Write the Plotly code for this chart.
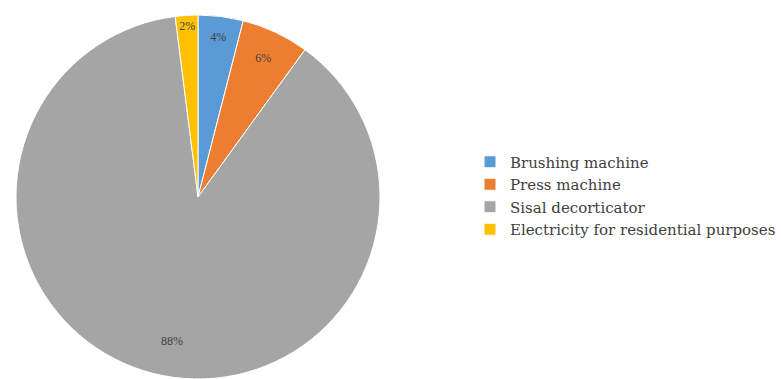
import math
import plotly.graph_objects as go

# Share of electricity use by end use (%)
categories = ["Brushing machine", "Press machine", "Sisal decorticator",
              "Electricity for residential purposes"]
shares = [4, 6, 88, 2]
colors = ["#5B9BD5", "#ED7D31", "#A5A5A5", "#FFC000"]

W, H = 781, 379
# pie placement in pixels (left, right, top, bottom)
PX0, PX1, PY0, PY1 = 15, 381, 15, 379
LABEL_FONT = dict(family="Liberation Serif", size=12, color="#404040")

# the big slice gets its label placed near the rim, the others inside
big = shares.index(max(shares))
templates = ["" if i == big else "%{value}%" for i in range(len(shares))]

fig = go.Figure(
    go.Pie(
        labels=categories,
        values=shares,
        sort=False,
        direction="clockwise",
        rotation=0,
        marker=dict(colors=colors, line=dict(color="white", width=1)),
        texttemplate=templates,
        textposition="inside",
        insidetextorientation="horizontal",
        textfont=LABEL_FONT,
        domain=dict(x=[PX0 / W, PX1 / W], y=[1 - PY1 / H, 1 - PY0 / H]),
        hoverinfo="label+percent",
    )
)

# label for the big slice, at its mid angle (clockwise from 12 o'clock)
total = sum(shares)
start = sum(shares[:big]) / total * 360
mid = math.radians(start + shares[big] / total * 360 / 2)
cx, cy = (PX0 + PX1) / 2, (PY0 + PY1) / 2
r = min(PX1 - PX0, PY1 - PY0) / 2 * 0.87
lx, ly = cx + r * math.sin(mid), cy - r * math.cos(mid)
fig.add_annotation(
    x=lx / W, y=1 - ly / H, xref="paper", yref="paper",
    text=f"{shares[big]}%", showarrow=False, font=LABEL_FONT,
)

fig.update_layout(
    width=W,
    height=H,
    margin=dict(l=0, r=0, t=0, b=0),
    paper_bgcolor="white",
    plot_bgcolor="white",
    font=dict(family="Liberation Serif", color="#404040"),
    legend=dict(
        x=470 / W,
        y=1 - 195.5 / H,
        xanchor="left",
        yanchor="middle",
        font=dict(family="DejaVu Serif", size=15, color="#404040"),
        bgcolor="rgba(0,0,0,0)",
    ),
    showlegend=True,
)

fig.write_html("out.html")
